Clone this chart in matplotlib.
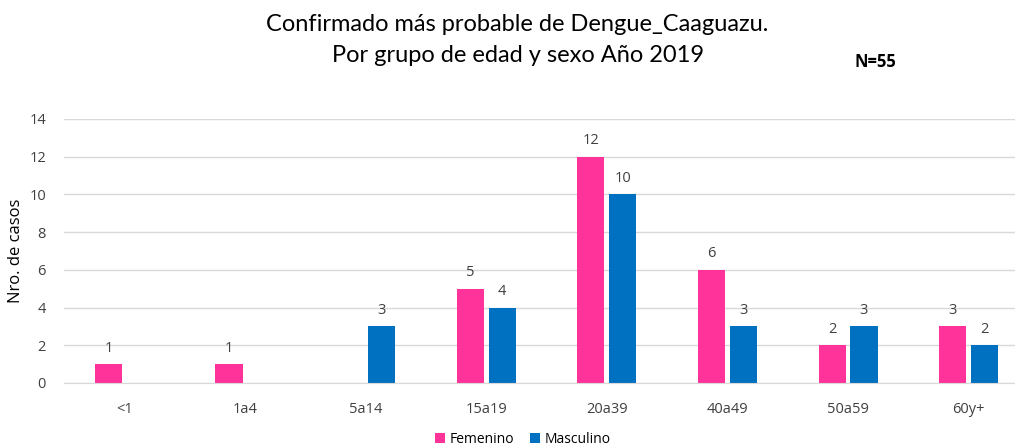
import matplotlib.pyplot as plt
import numpy as np

# datos
grupos = ['<1', '1a4', '5a14', '15a19', '20a39', '40a49', '50a59', '60y+']
femenino = [1, 1, 0, 5, 12, 6, 2, 3]
masculino = [0, 0, 3, 4, 10, 3, 3, 2]

plt.rcParams['font.family'] = ['Open Sans', 'DejaVu Sans']

fig = plt.figure(figsize=(10.15, 4.46), dpi=100)
ax = fig.add_axes([64 / 1015, 63 / 446, 1 - 64 / 1015, 264 / 446])

x = np.arange(len(grupos))
w = 0.225
off = 0.132
b1 = ax.bar(x - off, femenino, w, color='#FF3399', label='Femenino')
b2 = ax.bar(x + off, masculino, w, color='#0070C0', label='Masculino')

for bars, vals in [(b1, femenino), (b2, masculino)]:
    for bar, v in zip(bars, vals):
        if v > 0:
            ax.text(bar.get_x() + bar.get_width() / 2, v + 0.45, str(v),
                    ha='center', va='bottom', fontsize=10.5, color='#404040')

ax.set_ylim(0, 14)
ax.set_yticks(range(0, 15, 2))
ax.set_xlim(-0.5, 7.5 - 14 / 120.6)
ax.set_xticks(x)
ax.set_xticklabels(grupos)
ax.grid(axis='y', color='#D9D9D9', linewidth=1)
ax.set_axisbelow(True)
for s in ['top', 'right', 'left']:
    ax.spines[s].set_visible(False)
ax.spines['bottom'].set_color('#D9D9D9')
ax.tick_params(length=0, colors='#404040', labelsize=10.5)
ax.tick_params(axis='x', pad=14)
ax.tick_params(axis='y', pad=13)
ax.set_ylabel('Nro. de casos', fontsize=12, color='#000000', labelpad=4)

fig.text(0.51, 0.968, 'Confirmado más probable de Dengue_Caaguazu.\nPor grupo de edad y sexo Año 2019',
         ha='center', va='top', fontsize=17, family=['Lato', 'DejaVu Sans'], linespacing=1.6)
fig.text(0.862, 0.86, 'N=55', ha='center', va='center', fontsize=12, fontweight='bold')

fig.legend(handles=[b1, b2], loc='lower center', bbox_to_anchor=(0.515, -0.03), ncol=2,
           frameon=False, fontsize=10, handlelength=0.7, handleheight=0.7,
           handletextpad=0.3, columnspacing=1.2)

plt.savefig('out.png', dpi=100)
